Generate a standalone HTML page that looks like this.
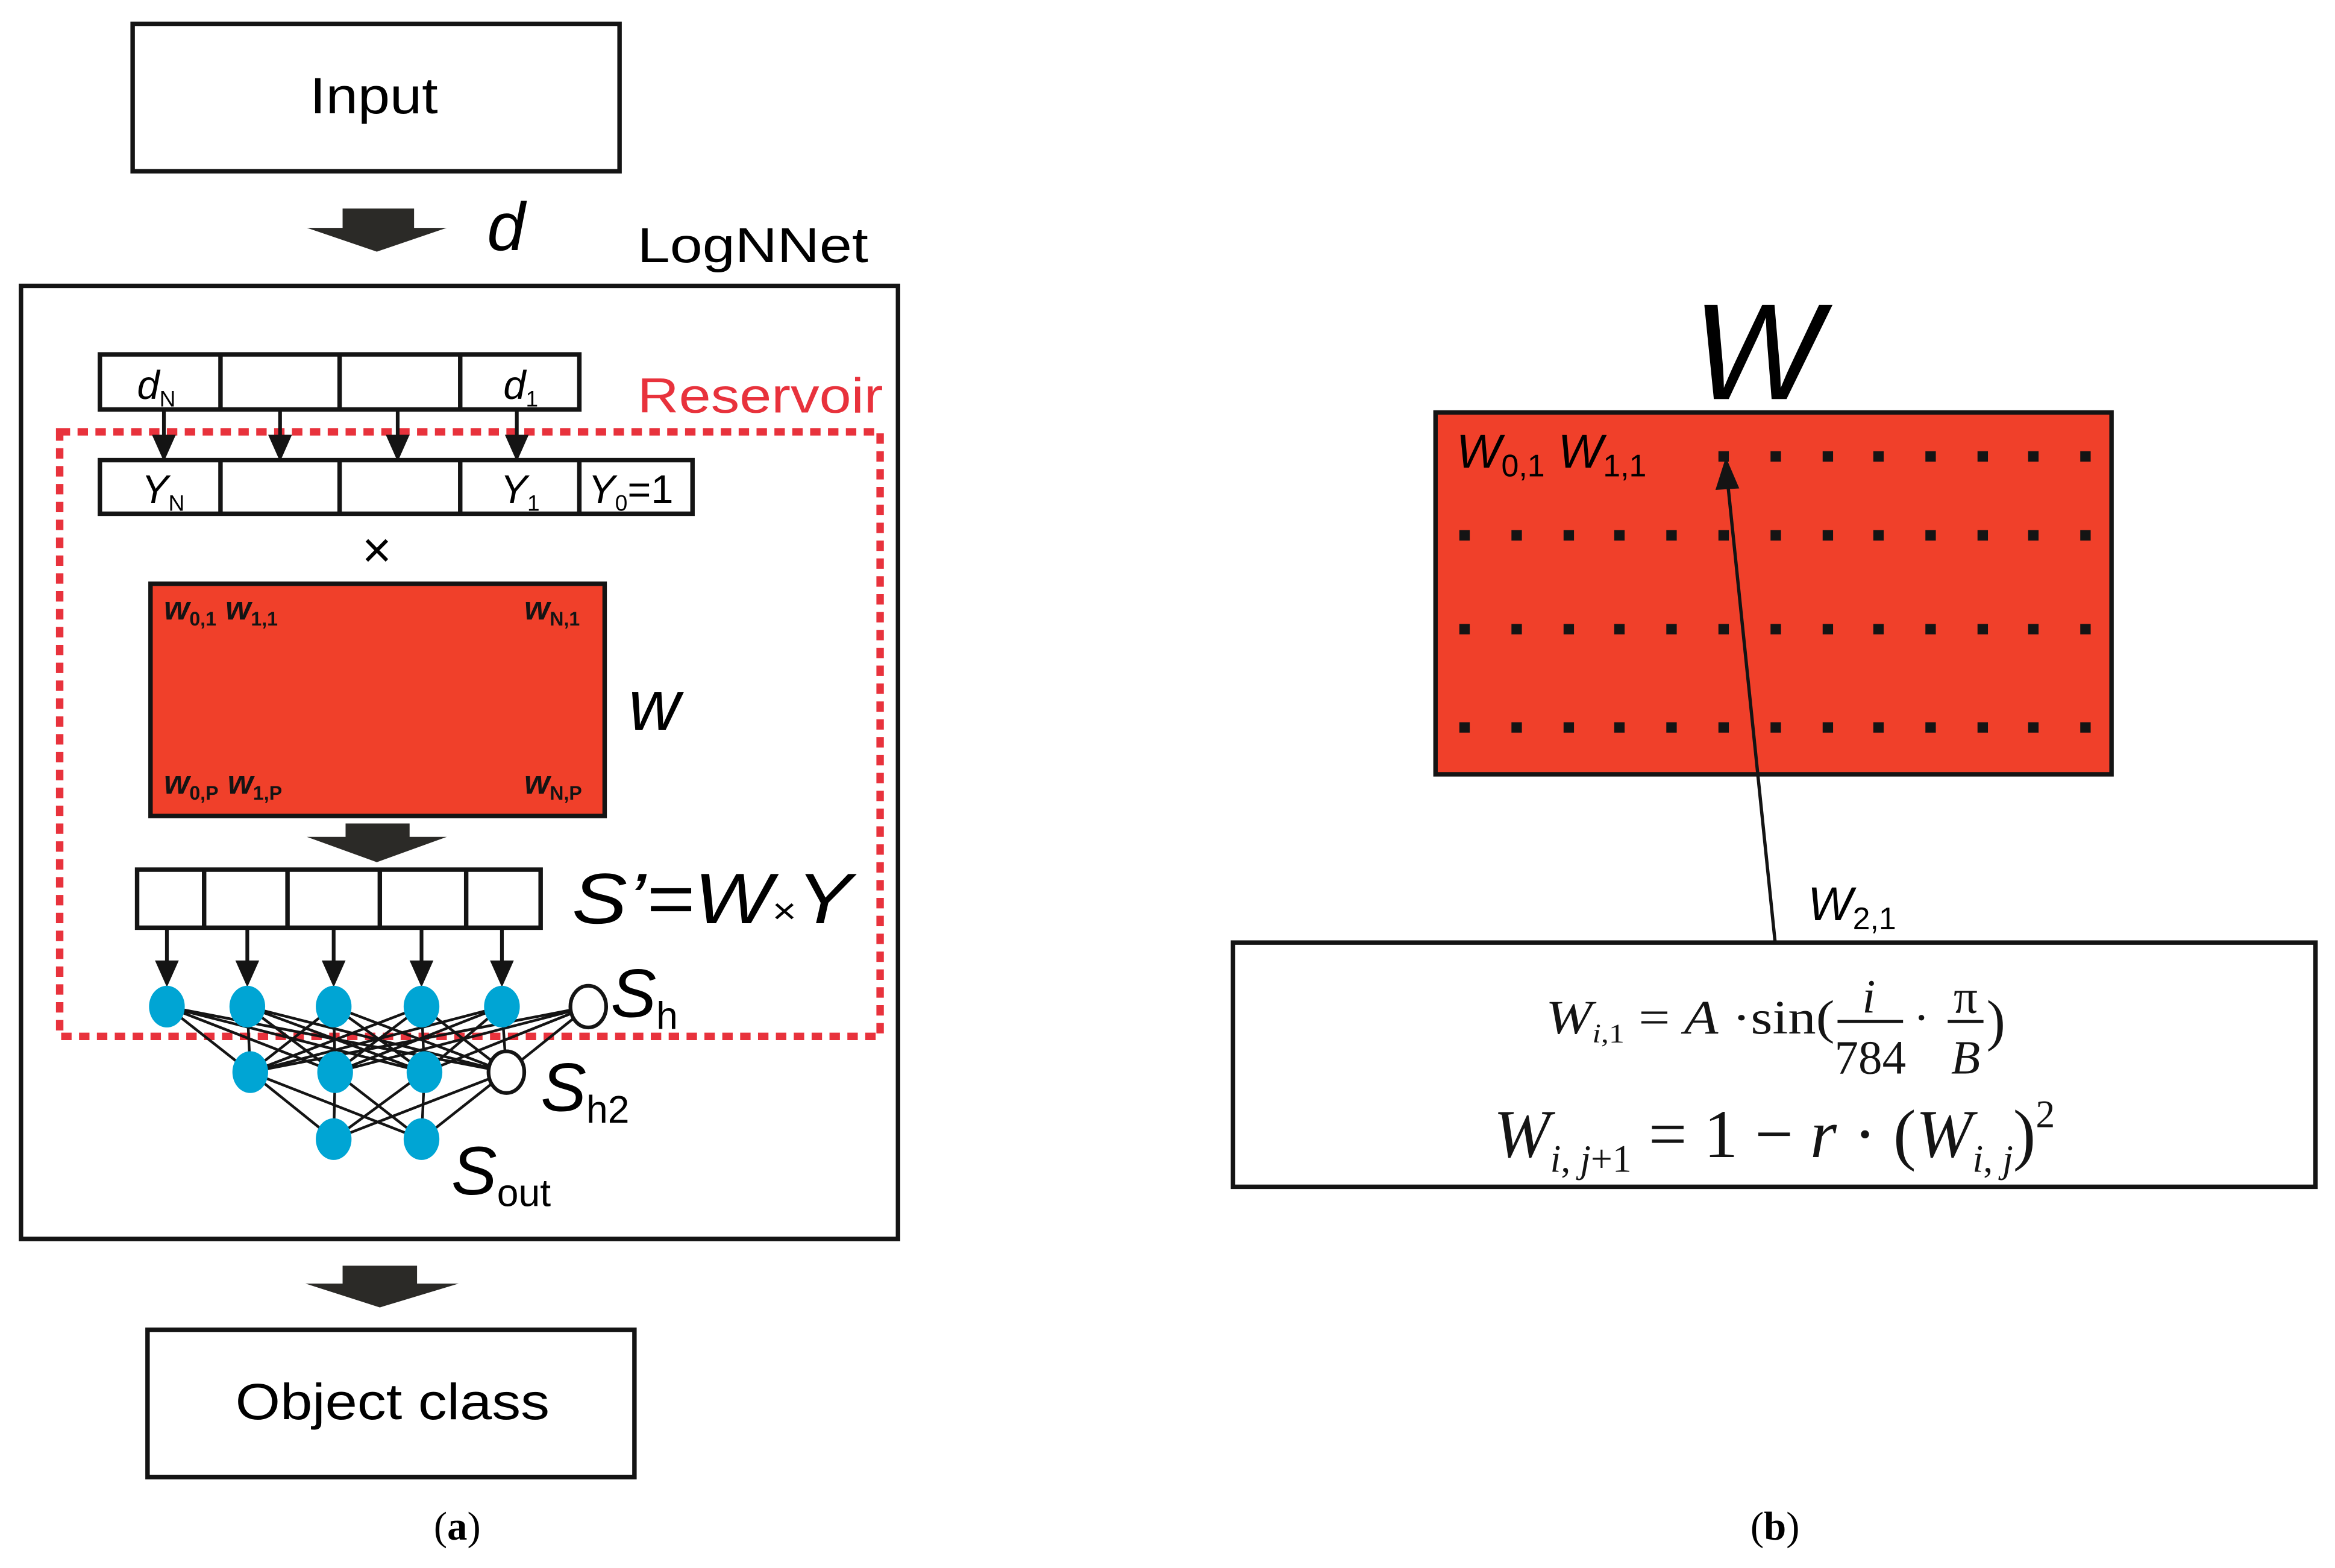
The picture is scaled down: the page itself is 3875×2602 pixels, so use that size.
<!DOCTYPE html>
<html><head><style>html,body{margin:0;padding:0;background:#fff}svg{display:block}</style></head>
<body>
<svg width="3875" height="2602" viewBox="0 0 1568 1053" xmlns="http://www.w3.org/2000/svg" font-family="Liberation Sans, sans-serif">
<rect width="1568" height="1053" fill="#fff"/>
<!-- Input -->
<rect x="89" y="16" width="327" height="99" fill="#fff" stroke="#141414" stroke-width="3"/>
<text x="208" y="76" font-size="34" textLength="86" lengthAdjust="spacingAndGlyphs">Input</text>
<polygon points="230,140 278,140 278,153 300,153 253,169 206,153 230,153" fill="#2b2a27"/>
<text x="327" y="168" font-size="46" font-style="italic">d</text>
<text x="428" y="176" font-size="33" textLength="155" lengthAdjust="spacingAndGlyphs">LogNNet</text>
<!-- main box -->
<rect x="14" y="192" width="589" height="640" fill="none" stroke="#141414" stroke-width="3"/>
<!-- d row -->
<rect x="67" y="238" width="322" height="37" fill="#fff" stroke="#141414" stroke-width="3"/>
<path d="M148 238V275M228 238V275M309 238V275" stroke="#141414" stroke-width="3"/>
<text x="92" y="268" font-size="27" font-style="italic">d<tspan font-size="15" dy="5" font-style="normal">N</tspan></text>
<text x="338" y="268" font-size="27" font-style="italic">d<tspan font-size="15" dy="5" font-style="normal">1</tspan></text>
<text x="428" y="277" font-size="33" fill="#e8323c" textLength="165" lengthAdjust="spacingAndGlyphs">Reservoir</text>
<rect x="40" y="290" width="551" height="406" fill="none" stroke="#e8323c" stroke-width="5" stroke-dasharray="7,5"/>
<g stroke="#141414" stroke-width="2.5">
<path d="M110 275V296M188 275V296M267 275V296M347 275V296"/></g>
<g fill="#141414">
<polygon points="102,292 118,292 110,310"/><polygon points="180,292 196,292 188,310"/><polygon points="259,292 275,292 267,310"/><polygon points="339,292 355,292 347,310"/></g>
<!-- Y row -->
<rect x="67" y="309" width="398" height="36" fill="#fff" stroke="#141414" stroke-width="3"/>
<path d="M148 309V345M228 309V345M309 309V345M389 309V345" stroke="#141414" stroke-width="3"/>
<text x="95" y="338" font-size="27" font-style="italic">Y<tspan font-size="15" dy="5" font-style="normal">N</tspan></text>
<text x="336" y="338" font-size="27" font-style="italic">Y<tspan font-size="15" dy="5" font-style="normal">1</tspan></text>
<text x="395" y="338" font-size="27" font-style="italic">Y<tspan font-size="15" dy="5" font-style="normal">0</tspan><tspan dy="-5" font-style="normal">=1</tspan></text>
<text x="253" y="381" font-size="34" text-anchor="middle">×</text>
<!-- matrix -->
<rect x="101" y="392" width="305" height="156" fill="#f0402a" stroke="#141414" stroke-width="3"/>
<g font-size="22" font-style="italic" fill="#141414" font-weight="bold">
<text x="110" y="416">w<tspan font-size="13" dy="4" font-style="normal">0,1</tspan><tspan dy="-4"> w</tspan><tspan font-size="13" dy="4" font-style="normal">1,1</tspan></text>
<text x="352" y="416">w<tspan font-size="13" dy="4" font-style="normal">N,1</tspan></text>
<text x="110" y="533">w<tspan font-size="13" dy="4" font-style="normal">0,P</tspan><tspan dy="-4"> w</tspan><tspan font-size="13" dy="4" font-style="normal">1,P</tspan></text>
<text x="352" y="533">w<tspan font-size="13" dy="4" font-style="normal">N,P</tspan></text>
</g>
<text x="422" y="490" font-size="48" font-style="italic">w</text>
<polygon points="232,553 275,553 275,562 300,562 253,579 206,562 232,562" fill="#2b2a27"/>
<!-- S' row -->
<rect x="92" y="584" width="271" height="39" fill="#fff" stroke="#141414" stroke-width="3"/>
<path d="M137 584V623M193 584V623M255 584V623M313 584V623" stroke="#141414" stroke-width="3"/>
<text x="384" y="620" font-size="48" font-style="italic" textLength="188" lengthAdjust="spacingAndGlyphs">S’=W<tspan font-size="24" font-style="normal">×</tspan>Y</text>
<g stroke="#141414" stroke-width="2.5"><path d="M112 623V648M166 623V648M224 623V648M283 623V648M337 623V648"/></g>
<g fill="#141414">
<polygon points="104,645 120,645 112,663"/><polygon points="158,645 174,645 166,663"/><polygon points="216,645 232,645 224,663"/><polygon points="275,645 291,645 283,663"/><polygon points="329,645 345,645 337,663"/></g>
<!-- network lines -->
<g stroke="#141414" stroke-width="1.8">
<path d="M112 676L168 720M112 676L225 720M112 676L285 720M112 676L340 720
M166 676L168 720M166 676L225 720M166 676L285 720M166 676L340 720
M224 676L168 720M224 676L225 720M224 676L285 720M224 676L340 720
M283 676L168 720M283 676L225 720M283 676L285 720M283 676L340 720
M337 676L168 720M337 676L225 720M337 676L285 720M337 676L340 720
M395 676L168 720M395 676L225 720M395 676L285 720M395 676L340 720
M168 720L224 765M168 720L283 765M225 720L224 765M225 720L283 765M285 720L224 765M285 720L283 765M340 720L224 765M340 720L283 765"/></g>
<g fill="#00a5d4">
<ellipse cx="112" cy="676" rx="12" ry="14"/><ellipse cx="166" cy="676" rx="12" ry="14"/><ellipse cx="224" cy="676" rx="12" ry="14"/><ellipse cx="283" cy="676" rx="12" ry="14"/><ellipse cx="337" cy="676" rx="12" ry="14"/>
<ellipse cx="168" cy="720" rx="12" ry="14"/><ellipse cx="225" cy="720" rx="12" ry="14"/><ellipse cx="285" cy="720" rx="12" ry="14"/>
<ellipse cx="224" cy="765" rx="12" ry="14"/><ellipse cx="283" cy="765" rx="12" ry="14"/></g>
<ellipse cx="395" cy="676" rx="12" ry="14" fill="#fff" stroke="#141414" stroke-width="2.5"/>
<ellipse cx="340" cy="720" rx="12" ry="14" fill="#fff" stroke="#141414" stroke-width="2.5"/>
<text x="410" y="683" font-size="46" font-style="italic">S<tspan font-size="26" dy="8" font-style="normal">h</tspan></text>
<text x="363" y="746" font-size="46" font-style="italic">S<tspan font-size="26" dy="8" font-style="normal">h2</tspan></text>
<text x="303" y="802" font-size="46" font-style="italic">S<tspan font-size="26" dy="8" font-style="normal">out</tspan></text>
<!-- bottom arrow + object class -->
<polygon points="230,850 280,850 280,862 308,862 255,878 205,862 230,862" fill="#2b2a27"/>
<rect x="99" y="893" width="327" height="99" fill="#fff" stroke="#141414" stroke-width="3"/>
<text x="158" y="953" font-size="34" textLength="211" lengthAdjust="spacingAndGlyphs">Object class</text>
<text x="307" y="1034" font-size="27" text-anchor="middle" font-family="Liberation Serif, serif">(<tspan font-weight="bold">a</tspan>)</text>
<text x="1192" y="1034" font-size="27" text-anchor="middle" font-family="Liberation Serif, serif">(<tspan font-weight="bold">b</tspan>)</text>
<!-- right panel -->
<text x="1180" y="268" font-size="92" font-style="italic" text-anchor="middle">W</text>
<rect x="964" y="277" width="454" height="243" fill="#f0402a" stroke="#141414" stroke-width="3"/>
<text x="978" y="314" font-size="32" font-style="italic">W<tspan font-size="21" dy="6" font-style="normal">0,1</tspan><tspan dy="-6"> W</tspan><tspan font-size="21" dy="6" font-style="normal">1,1</tspan></text>
<g fill="#141414">
<rect x="1154" y="303" width="7" height="7"/><rect x="1189" y="303" width="7" height="7"/><rect x="1224" y="303" width="7" height="7"/><rect x="1258" y="303" width="7" height="7"/><rect x="1293" y="303" width="7" height="7"/><rect x="1328" y="303" width="7" height="7"/><rect x="1362" y="303" width="7" height="7"/><rect x="1397" y="303" width="7" height="7"/>
</g>
<g fill="#141414" id="r">
<path d="M980 356h7v7h-7zM1015 356h7v7h-7zM1050 356h7v7h-7zM1084 356h7v7h-7zM1119 356h7v7h-7zM1154 356h7v7h-7zM1189 356h7v7h-7zM1224 356h7v7h-7zM1258 356h7v7h-7zM1293 356h7v7h-7zM1328 356h7v7h-7zM1362 356h7v7h-7zM1397 356h7v7h-7z"/>
</g>
<use href="#r" y="63"/>
<use href="#r" y="129"/>
<line x1="1192" y1="632" x2="1160" y2="322" stroke="#141414" stroke-width="2.2"/>
<polygon points="1159,307 1168,328 1152,329" fill="#141414"/>
<text x="1214" y="618" font-size="32" font-style="italic">W<tspan font-size="21" dy="6" font-style="normal">2,1</tspan></text>
<rect x="828" y="633" width="727" height="164" fill="#fff" stroke="#141414" stroke-width="3"/>
<g font-family="Liberation Serif, serif" fill="#141414">
<text x="1038" y="694" font-size="32" textLength="194" lengthAdjust="spacingAndGlyphs"><tspan font-style="italic">W</tspan><tspan font-size="18" dy="6" font-style="italic">i</tspan><tspan font-size="18">,1</tspan><tspan dy="-6"> = </tspan><tspan font-style="italic">A</tspan> ·sin(</text>
<text x="1255" y="680" font-size="32" font-style="italic" text-anchor="middle">i</text>
<line x1="1234" y1="686" x2="1278" y2="686" stroke="#141414" stroke-width="2"/>
<text x="1256" y="721" font-size="32" text-anchor="middle">784</text>
<text x="1285" y="694" font-size="32">·</text>
<text x="1320" y="680" font-size="32" text-anchor="middle">π</text>
<line x1="1308" y1="686" x2="1332" y2="686" stroke="#141414" stroke-width="2"/>
<text x="1320" y="721" font-size="32" font-style="italic" text-anchor="middle">B</text>
<text x="1334" y="698" font-size="38">)</text>
<text x="1003" y="777" font-size="46" textLength="377" lengthAdjust="spacingAndGlyphs"><tspan font-style="italic">W</tspan><tspan font-size="26" dy="10" font-style="italic">i</tspan><tspan font-size="26">, </tspan><tspan font-size="26" font-style="italic">j</tspan><tspan font-size="26">+1</tspan><tspan dy="-10"> = 1 − </tspan><tspan font-style="italic">r</tspan> · (<tspan font-style="italic">W</tspan><tspan font-size="26" dy="10" font-style="italic">i</tspan><tspan font-size="26">, </tspan><tspan font-size="26" font-style="italic">j</tspan><tspan dy="-10">)</tspan><tspan font-size="26" dy="-20">2</tspan></text>
</g>
</svg>
</body></html>
